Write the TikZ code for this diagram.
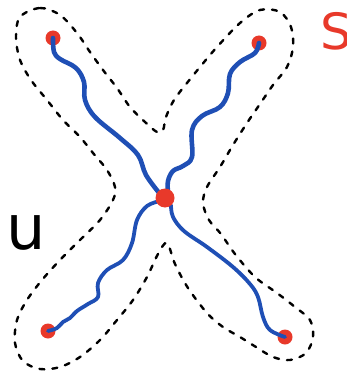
\documentclass[tikz,border=0pt]{standalone}
\usepackage{fontspec}
\setsansfont{DejaVu Sans}
\definecolor{dotred}{HTML}{E8392A}
\definecolor{pathblue}{HTML}{1F4FB5}
\tikzset{
  dot/.style={circle,fill=dotred,inner sep=0pt,minimum size=15pt},
  bigdot/.style={dot,minimum size=19pt},
  wiggle/.style={draw=pathblue,line width=4.6pt,line cap=round,line join=round},
  outline/.style={draw=black,line width=2.4pt,dash pattern=on 5pt off 8pt,line cap=round}
}
\begin{document}
\begin{tikzpicture}[x=1pt,y=-1pt]
\useasboundingbox (0,0) rectangle (346,374);
% dashed X-shaped outline
\draw[outline] plot[smooth cycle,tension=0.55] coordinates {
 (20,17) (40,8) (60,15) (77,33) (90,52) (103,70) (117,88) (130,107) (145,122) (157,132) (163,130)
 (166,117) (174,100) (187,83) (200,67) (217,47) (240,23) (260,10) (280,12) (291,27) (293,47) (287,67) (273,85) (260,104) (247,123) (233,145) (220,167) (207,187) (203,203)
 (209,220) (221,234) (235,254) (255,277) (277,293) (295,307) (310,320) (313,337) (306,353) (290,360) (273,357) (256,347) (240,337) (223,327) (207,313) (188,288) (175,264) (167,243)
 (158,254) (147,277) (133,300) (117,320) (100,340) (80,357) (60,367) (40,369) (23,361) (15,343) (17,320) (27,300) (42,280) (60,260) (80,240) (100,220) (113,200) (115,187) (107,170) (93,153) (80,137) (63,120) (47,100) (31,80) (20,60) (16,37)};
% nodes
\node[dot] (tl) at (53,38) {};
\node[dot] (tr) at (259,43) {};
\node[dot] (bl) at (48,331) {};
\node[dot] (br) at (285,337) {};
% blue wiggly paths
\draw[wiggle] plot[smooth,tension=0.6] coordinates {(tl.center) (54,52) (60,59) (76,68) (84,82) (85,100) (95,117) (120,138) (138,155) (146,175) (160,194)};
\draw[wiggle] plot[smooth,tension=0.6] coordinates {(tr.center) (255,53) (240,62) (230,74) (228,93) (220,107) (202,116) (192,130) (192,157) (183,166) (173,171) (168,181) (168,192)};
\draw[wiggle,line width=3.8pt] plot[smooth,tension=0.6] coordinates {(160,201) (147,206) (137,220) (132,243) (123,260) (107,270) (98,283) (98,297) (88,304) (77,311) (70,318) (63,322) (57,328) (bl.center)};
\draw[wiggle,line width=3.8pt] plot[smooth,tension=0.6] coordinates {(171,205) (173,217) (184,231) (207,247) (233,267) (250,284) (258,297) (263,317) (270,330) (br.center)};
\node[bigdot] (c) at (165,198) {};
% labels
\node[text=black,font=\sffamily\fontsize{62}{62}\selectfont,inner sep=0pt,anchor=base west] (u) at (6,249) {u};
\node[text=dotred,font=\sffamily\fontsize{50}{50}\selectfont,inner sep=0pt,anchor=base west] (s) at (320,50) {S};
\end{tikzpicture}
\end{document}
